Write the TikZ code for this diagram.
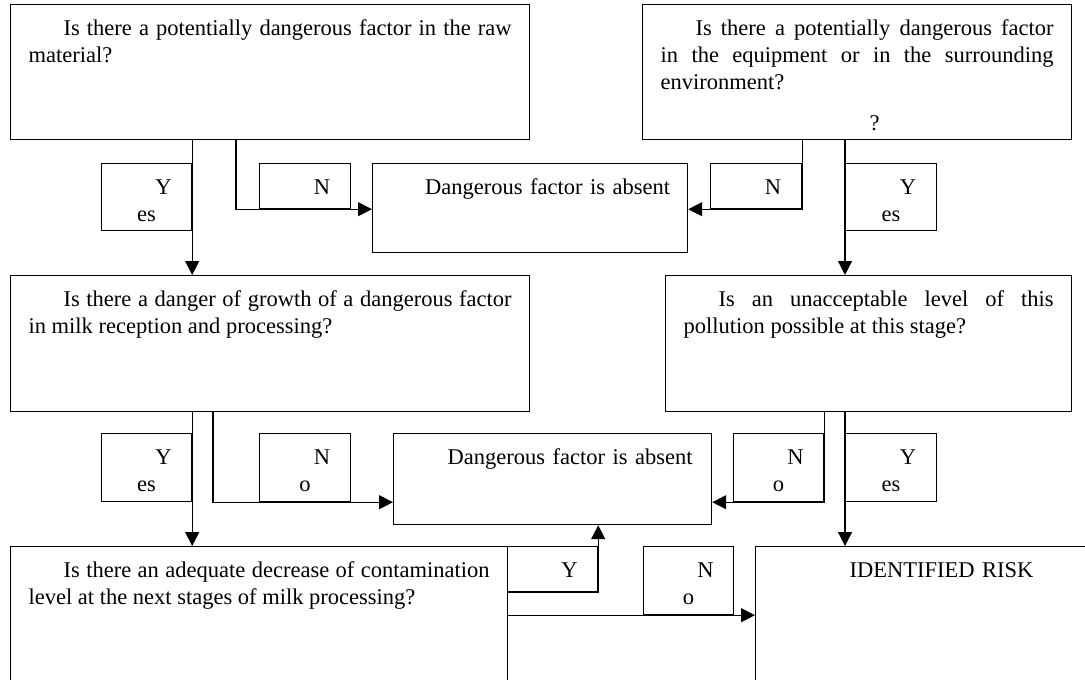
\documentclass[tikz,border=0pt]{standalone}
\usepackage{fontspec}
\setmainfont{Liberation Serif}
\usepackage{tikz}
\usetikzlibrary{arrows.meta,calc}
\tikzstyle{question}=[draw,anchor=north west,inner xsep=18pt,inner ysep=0pt,text height=31pt,align=justify]
\tikzstyle{absent}=[question,inner xsep=8pt,align=center]
\tikzstyle{answer}=[question,align=center]
\tikzstyle{arr}=[-{Triangle[length=14pt,width=14pt]}]
\hyphenpenalty=10000

\begin{document}
\begin{tikzpicture}[x=1pt,y=-1pt,line width=1.2pt,font=\fontsize{22.5}{27}\selectfont]
\clip (0,0) rectangle (1085,680);
% questions
\node [question,text width=483pt,text depth=104pt] (raw) at (10,4) {\hspace*{35pt}Is there a potentially dangerous factor in the raw material?};
\node [question,text width=393pt,text depth=104pt] (equip) at (642,4) {\hspace*{35pt}Is there a potentially dangerous factor\linebreak in the equipment or in the surrounding\linebreak environment?\par\vspace{14pt}{\centering\hspace*{35pt}?\par}};
\node [question,text width=483pt,text depth=105pt] (growth) at (10,275) {\hspace*{35pt}Is there a danger of growth of a dangerous factor\linebreak in milk reception and processing?};
\node [question,text width=370pt,text depth=105pt] (level) at (665,275) {\hspace*{35pt}Is an unacceptable level of this\linebreak pollution possible at this stage?};
\node [question,text width=461pt,text depth=129pt] (decrease) at (10,546) {\hspace*{35pt}Is there an adequate decrease of contamination\linebreak level at the next stages of milk processing?};
% results
\node [absent,text width=299pt,text depth=58pt] (absentA) at (372,163) {\hspace*{35pt}Dangerous factor is absent};
\node [absent,text width=302pt,text depth=60pt] (absentB) at (393,433) {\hspace*{35pt}Dangerous factor is absent};
\node [absent,text width=321pt,text depth=129pt] (risk) at (755,546) {\hspace*{35pt}IDENTIFIED RISK};
% answers
\node [answer,text width=54pt,text depth=36pt] (yesA) at (101,163) {\hspace*{34pt}Y\\es};
\node [answer,text width=55pt,text depth=14pt] (noA) at (259,163) {\hspace*{34pt}N};
\node [answer,text width=55pt,text depth=14pt] (noB) at (710,163) {\hspace*{34pt}N};
\node [answer,text width=55pt,text depth=36pt] (yesB) at (845,163) {\hspace*{34pt}Y\\es};
\node [answer,text width=54pt,text depth=37pt] (yesD) at (101,433) {\hspace*{34pt}Y\\es};
\node [answer,text width=55pt,text depth=37pt] (noD) at (259,433) {\hspace*{34pt}N\\o};
\node [answer,text width=54pt,text depth=37pt] (noE) at (733,433) {\hspace*{34pt}N\\o};
\node [answer,text width=55pt,text depth=37pt] (yesE) at (845,433) {\hspace*{34pt}Y\\es};
\node [answer,text width=54pt,text depth=14pt] (yesG) at (507,546) {\hspace*{34pt}Y};
\node [answer,text width=54pt,text depth=37pt] (noG) at (643,546) {\hspace*{34pt}N\\o};
% connectors
\draw [arr] (raw.south west -| yesA.east) -- (growth.north west -| yesA.east);
\draw [arr] ($(raw.south west)+(226,0)$) |- (absentA.west |- noA.south);
\draw [arr] (equip.south -| noB.east) |- (absentA.east |- noB.south);
\draw [arr] (equip.south -| yesB.west) -- (level.north -| yesB.west);
\draw [arr] (growth.south -| yesD.east) -- (decrease.north -| yesD.east);
\draw [arr] ($(growth.south west)+(203,0)$) |- (absentB.west |- noD.south);
\draw [arr] (level.south -| noE.east) |- (absentB.east |- noE.south);
\draw [arr] (level.south -| yesE.west) -- (risk.north -| yesE.west);
\draw [arr] (decrease.east |- yesG.south) -| (absentB.south -| yesG.east);
\draw [arr] (decrease.east |- noG.south) -- (risk.west |- noG.south);
\end{tikzpicture}
\end{document}
